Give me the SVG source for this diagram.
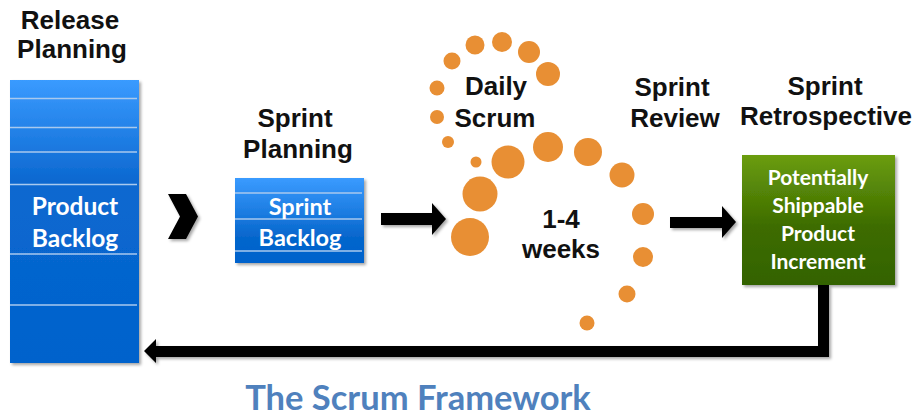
<svg xmlns="http://www.w3.org/2000/svg" width="917" height="417" viewBox="0 0 917 417">
<defs>
<linearGradient id="gBig" x1="0" y1="0" x2="0" y2="1">
<stop offset="0" stop-color="#3a9bff"/>
<stop offset="0.36" stop-color="#0b68d0"/>
<stop offset="1" stop-color="#0062cc"/>
</linearGradient>
<linearGradient id="gSmall" x1="0" y1="0" x2="0" y2="1">
<stop offset="0" stop-color="#3a9bff"/>
<stop offset="0.7" stop-color="#0666cc"/>
<stop offset="1" stop-color="#0062cc"/>
</linearGradient>
<linearGradient id="gGreen" x1="0" y1="0" x2="0" y2="1">
<stop offset="0" stop-color="#6b9d0c"/>
<stop offset="0.55" stop-color="#3d6c02"/>
<stop offset="1" stop-color="#336300"/>
</linearGradient>
<filter id="sh" x="-20%" y="-20%" width="140%" height="140%">
<feDropShadow dx="2" dy="2" stdDeviation="1.5" flood-color="#000" flood-opacity="0.35"/>
</filter>
</defs>
<style>
.h{font-family:"Liberation Sans",Arial,sans-serif;font-weight:bold;font-size:26px;fill:#111;text-anchor:middle}
.w{font-family:Lato,"Noto Sans",sans-serif;font-weight:bold;fill:#fff;text-anchor:middle}
.ln{stroke:#a9c9ee;stroke-width:1.5}
.dot{fill:#e88f34}
.conn{fill:#000;filter:url(#sh)}
</style>
<rect width="917" height="417" fill="#fff"/>

<g id="release-planning">
<text class="h" x="70" y="29">Release</text>
<text class="h" x="72" y="58">Planning</text>
</g>

<g id="product-backlog">
<rect x="10" y="80" width="129" height="283" fill="url(#gBig)" filter="url(#sh)"/>
<line class="ln" x1="10" y1="98.5" x2="137" y2="98.5"/>
<line class="ln" x1="10" y1="127.5" x2="137" y2="127.5"/>
<line class="ln" x1="10" y1="152" x2="137" y2="152"/>
<line class="ln" x1="10" y1="184.5" x2="137" y2="184.5"/>
<line class="ln" x1="10" y1="254" x2="137" y2="254"/>
<line class="ln" x1="10" y1="305" x2="137" y2="305"/>
<text class="w" x="75" y="215" font-size="24.5">Product</text>
<text class="w" x="75" y="247" font-size="24.5">Backlog</text>
</g>

<g id="sprint-planning">
<text class="h" x="295" y="127">Sprint</text>
<text class="h" x="298" y="158">Planning</text>
</g>

<g id="sprint-backlog">
<rect x="235" y="178" width="129" height="85" fill="url(#gSmall)" filter="url(#sh)"/>
<line class="ln" x1="235" y1="193" x2="362" y2="193"/>
<line class="ln" x1="235" y1="219" x2="362" y2="219"/>
<line class="ln" x1="235" y1="251" x2="362" y2="251"/>
<text class="w" x="300" y="215" font-size="23.5">Sprint</text>
<text class="w" x="300" y="246" font-size="23.5">Backlog</text>
</g>

<g id="daily-scrum">
<circle class="dot" cx="475" cy="45" r="9.5"/>
<circle class="dot" cx="502" cy="42" r="10"/>
<circle class="dot" cx="529" cy="52" r="11"/>
<circle class="dot" cx="548" cy="74" r="12"/>
<circle class="dot" cx="452" cy="61" r="8.5"/>
<circle class="dot" cx="437" cy="88" r="7.5"/>
<circle class="dot" cx="437" cy="117" r="7"/>
<circle class="dot" cx="448" cy="142" r="6"/>
<circle class="dot" cx="476" cy="162" r="5.5"/>
<circle class="dot" cx="508" cy="162" r="16.5"/>
<circle class="dot" cx="548" cy="147" r="15"/>
<circle class="dot" cx="588" cy="152" r="14"/>
<circle class="dot" cx="622" cy="175" r="12.5"/>
<circle class="dot" cx="643" cy="214" r="11"/>
<circle class="dot" cx="643" cy="257" r="10"/>
<circle class="dot" cx="627" cy="294" r="8.5"/>
<circle class="dot" cx="587" cy="323" r="7.5"/>
<circle class="dot" cx="480" cy="194" r="17.5"/>
<circle class="dot" cx="470" cy="237" r="19"/>
<text class="h" x="496" y="95">Daily</text>
<text class="h" x="495" y="127">Scrum</text>
<text class="h" x="561" y="228">1-4</text>
<text class="h" x="561" y="258">weeks</text>
</g>

<g id="sprint-review">
<text class="h" x="672" y="96">Sprint</text>
<text class="h" x="675" y="127">Review</text>
</g>

<g id="sprint-retrospective">
<text class="h" x="825" y="95">Sprint</text>
<text class="h" x="826" y="125">Retrospective</text>
</g>

<g id="product-increment">
<rect x="742" y="155" width="153" height="130" fill="url(#gGreen)" filter="url(#sh)"/>
<text class="w" x="818" y="185" font-size="21">Potentially</text>
<text class="w" x="818" y="213" font-size="21">Shippable</text>
<text class="w" x="818" y="241" font-size="21">Product</text>
<text class="w" x="818" y="269" font-size="21">Increment</text>
</g>

<g id="connectors">
<polygon class="conn" points="168,194 186,194 198,216.5 186,239 168,239 180,216.5"/>
<polygon class="conn" points="381,213 432,213 432,203 446,219 432,235 432,225 381,225"/>
<polygon class="conn" points="670,217 722,217 722,206 736,222 722,238 722,228 670,228"/>
<polygon class="conn" points="818,285 829,285 829,357 156,357 156,363 144,351 156,339 156,346 818,346"/>
</g>

<g id="title">
<text x="418" y="410" font-family="Lato,'Noto Sans',sans-serif" font-weight="bold" font-size="34.5" fill="#4f81bd" text-anchor="middle">The Scrum Framework</text>
</g>
</svg>
